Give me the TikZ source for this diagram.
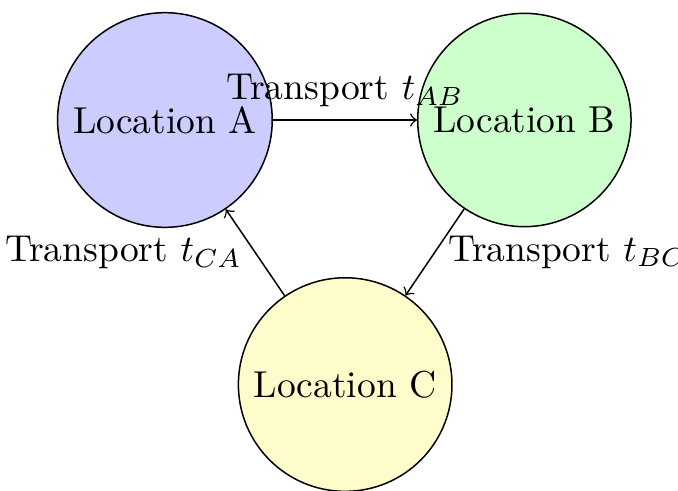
\documentclass[tikz,border=0pt]{standalone}
\usetikzlibrary{positioning}
\begin{document}
\begin{tikzpicture}[
  location/.style={circle, draw, minimum size=2cm},
  transport/.style={->}]
\useasboundingbox (-1.546,1.125) rectangle (4.81,-3.477);
% the three sites
\node [location, fill=blue!20] (a) at (0,0) {Location A};
\node [location, fill=green!20] (b) at (3.37,0) {Location B};
\node [location, fill=yellow!20] (c) at (1.69,-2.48) {Location C};
% transport legs
\draw [transport] (a) -- (b) node [midway, above] {Transport $t_{AB}$};
\draw [transport] (b) -- (c) node [midway, right] {Transport $t_{BC}$};
\draw [transport] (c) -- (a) node [midway, left] {Transport $t_{CA}$};
\end{tikzpicture}
\end{document}
